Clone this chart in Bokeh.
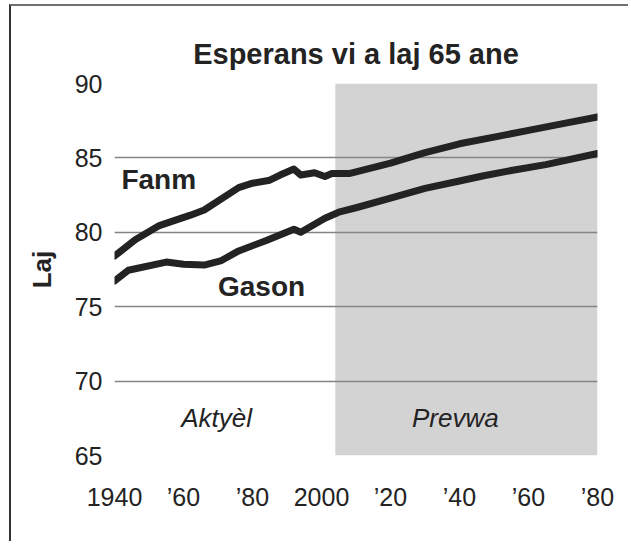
from bokeh.plotting import figure
from bokeh.models import Range1d, FixedTicker
from bokeh.core.properties import value
from bokeh.embed import file_html
from bokeh.resources import INLINE

# ---- data ----
fanm_years = [1940, 1946, 1953, 1962, 1966, 1976, 1980, 1985, 1988, 1992, 1994, 1998,
              2001, 2003, 2008, 2020, 2030, 2040, 2050, 2060, 2070, 2080]
fanm_values = [78.4, 79.5, 80.45, 81.15, 81.5, 83.0, 83.3, 83.5, 83.85, 84.25, 83.85, 84.0,
               83.75, 83.95, 83.95, 84.65, 85.35, 85.95, 86.4, 86.85, 87.3, 87.75]

gason_years = [1940, 1944, 1955, 1960, 1966, 1971, 1976, 1984, 1992, 1994, 2001, 2005,
               2010, 2020, 2030, 2040, 2047, 2055, 2065, 2080]
gason_values = [76.73, 77.45, 78.0, 77.85, 77.8, 78.1, 78.75, 79.45, 80.2, 80.0, 80.95, 81.35,
                81.65, 82.3, 82.95, 83.45, 83.8, 84.15, 84.55, 85.3]

x_ticks = [1940, 1960, 1980, 2000, 2020, 2040, 2060, 2080]
x_tick_labels = ["1940", "\u201960", "\u201980", "2000", "\u201920", "\u201940", "\u201960", "\u201980"]
y_ticks = [65, 70, 75, 80, 85, 90]

projection_start = 2004
x_start, x_end = 1940, 2080
y_start, y_end = 65, 90

title_text = "Esperans vi a laj 65 ane"
y_label = "Laj"
series_labels = ["Fanm", "Gason"]
series_label_pos = [(1942, 83.55), (1970, 76.33)]
period_labels = ["Akty\u00e8l", "Prevwa"]
period_label_pos = [(1969.6, 67.5), (2038.8, 67.5)]

FONT = "Liberation Sans"
DARK = "#232323"

p = figure(width=619, height=537, output_backend="svg", toolbar_location=None,
           x_range=Range1d(x_start, x_end), y_range=Range1d(y_start, y_end),
           min_border_left=103, min_border_right=33, min_border_top=77, min_border_bottom=88,
           title=title_text,
           styles={"margin-left": "9px", "margin-top": "4px", "margin-bottom": "-12px",
                   "border-top": "2px solid #707070", "border-left": "2px solid #333333"})
p.outline_line_color = None
p.background_fill_color = "white"
p.border_fill_color = "white"

p.title.align = "center"
p.title.text_font = FONT
p.title.text_font_size = "29px"
p.title.text_font_style = "bold"
p.title.text_color = DARK
p.title.standoff = 27

# shaded projection region
p.quad(left=[projection_start], right=[x_end], bottom=[y_start], top=[y_end],
       fill_color="#d3d3d3", line_color=None, level="image")

# grid
p.xgrid.visible = False
p.ygrid.grid_line_color = "#858585"
p.ygrid.grid_line_width = 1.5
p.ygrid.ticker = FixedTicker(ticks=y_ticks)

# axes
p.xaxis.ticker = FixedTicker(ticks=x_ticks)
p.xaxis.major_label_overrides = {t: l for t, l in zip(x_ticks, x_tick_labels)}
p.yaxis.ticker = FixedTicker(ticks=y_ticks)
for ax in (p.xaxis[0], p.yaxis[0]):
    ax.axis_line_color = None
    ax.major_tick_line_color = None
    ax.minor_tick_line_color = None
    ax.major_tick_out = 0
    ax.major_tick_in = 0
    ax.minor_tick_out = 0
    ax.major_label_text_font = FONT
    ax.major_label_text_font_size = "25px"
    ax.major_label_text_color = DARK
p.xaxis.major_label_standoff = 27
p.yaxis.major_label_standoff = 12
p.yaxis.axis_label = y_label
p.yaxis.axis_label_text_font = FONT
p.yaxis.axis_label_text_font_size = "26px"
p.yaxis.axis_label_text_font_style = "bold"
p.yaxis.axis_label_text_color = DARK
p.yaxis.axis_label_standoff = 15

# lines
for xs, ys in ((fanm_years, fanm_values), (gason_years, gason_values)):
    p.line(xs, ys, line_color=DARK, line_width=7, line_cap="round", line_join="round")

# series labels
for txt, (lx, ly) in zip(series_labels, series_label_pos):
    p.text(x=[lx], y=[ly], text=[txt], text_font=value(FONT), text_font_size="28px",
           text_font_style="bold", text_color=DARK, text_align="left",
           text_baseline="alphabetic")

# period labels
for txt, (lx, ly) in zip(period_labels, period_label_pos):
    p.text(x=[lx], y=[ly], text=[txt], text_font=value(FONT), text_font_size="26px",
           text_font_style="italic", text_color=DARK, text_align="center",
           text_baseline="alphabetic")

open("out.html", "w").write(file_html(p, INLINE))
